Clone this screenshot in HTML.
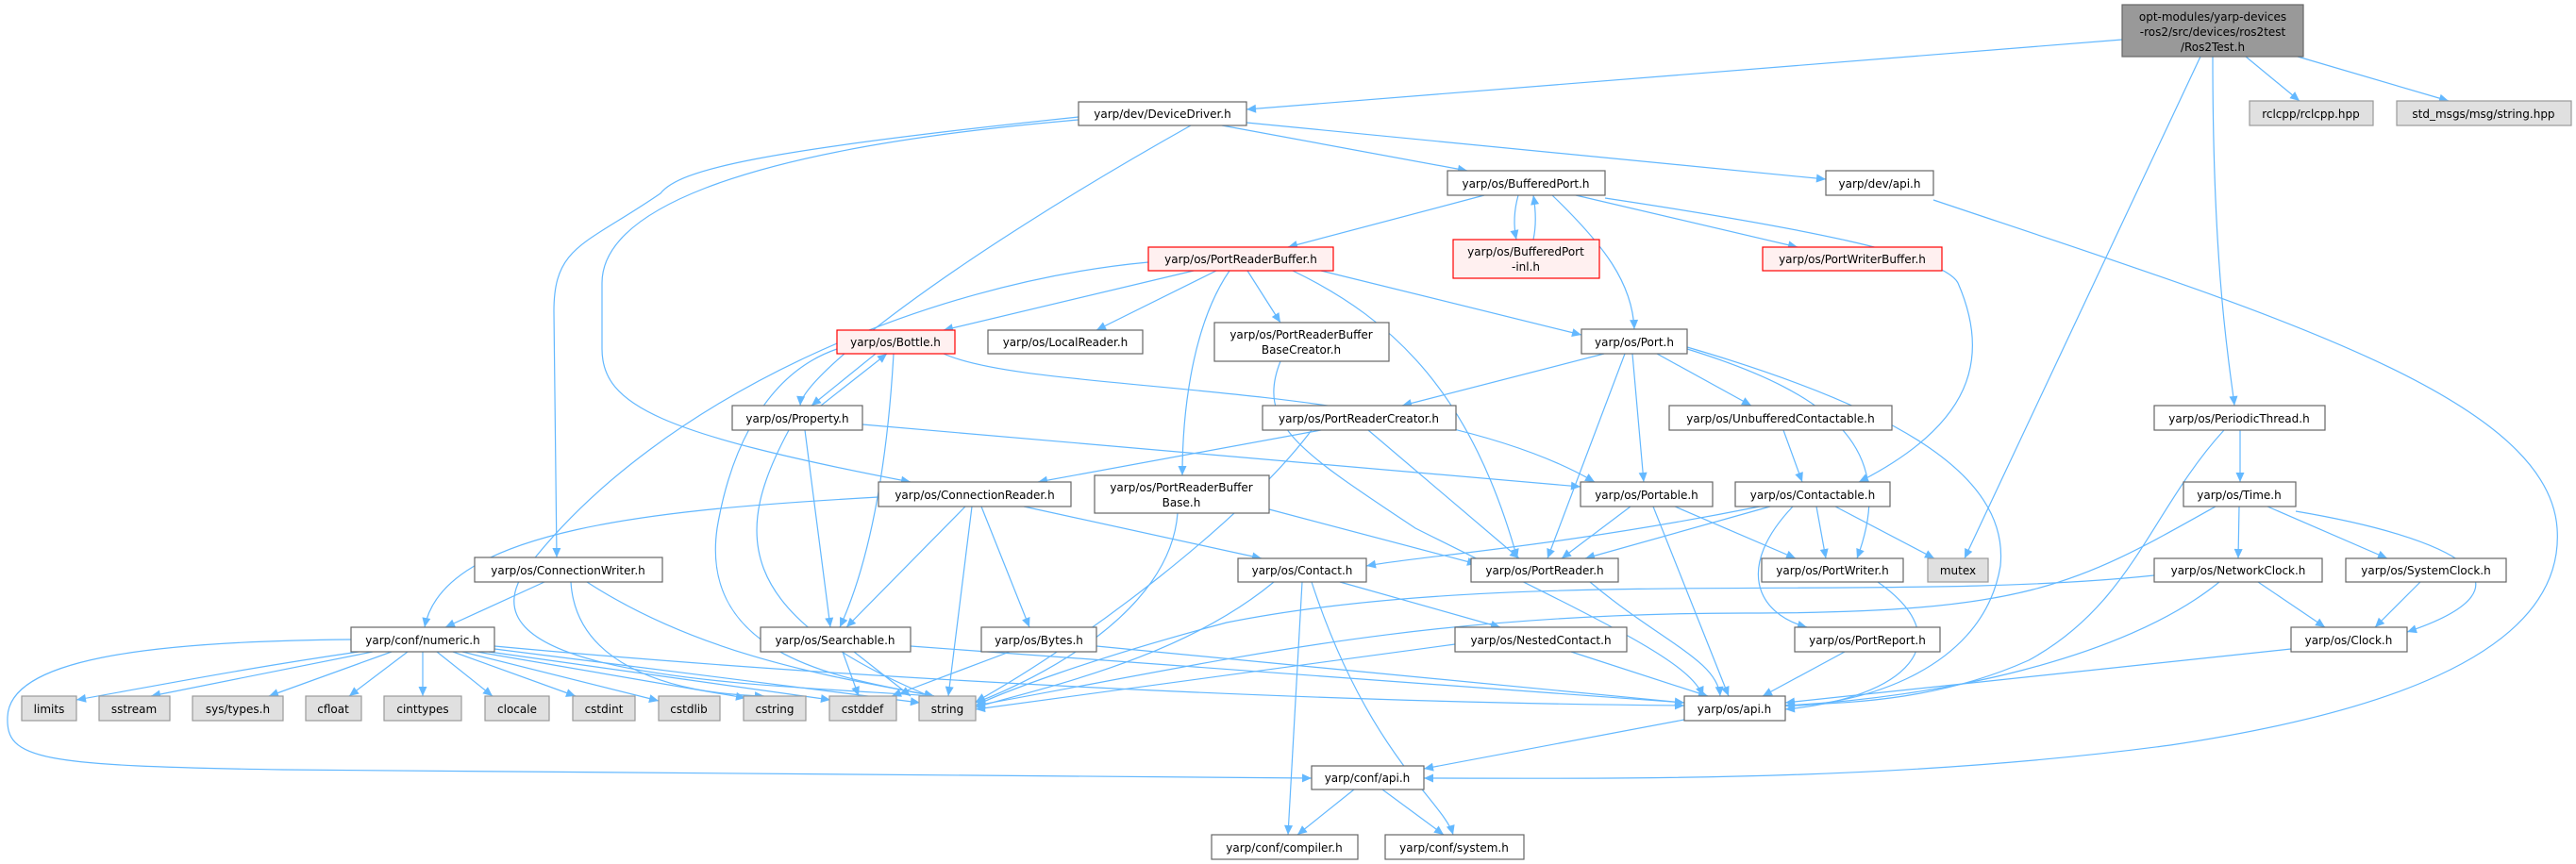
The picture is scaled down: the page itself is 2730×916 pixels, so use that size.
<!DOCTYPE html>
<html><head><meta charset="utf-8"><style>
html,body{margin:0;padding:0;background:#fff;}
svg{display:block;}
text{font-family:"DejaVu Sans","Liberation Sans",sans-serif;font-size:12px;fill:#000;text-anchor:middle;}
.n{fill:#fff;stroke:#666;stroke-width:1.2;}
.r{fill:#fff0f0;stroke:#ff0000;stroke-width:1.2;}
.g{fill:#e0e0e0;stroke:#999;stroke-width:1.2;}
.root{fill:#999;stroke:#666;stroke-width:1.2;}
.e path{fill:none;stroke:#63b8ff;stroke-width:1.2;marker-end:url(#a);}
</style></head><body>
<svg width="2730" height="916" viewBox="0 0 2730 916" xmlns="http://www.w3.org/2000/svg">
<defs><marker id="a" viewBox="0 0 10 10" refX="10" refY="5" markerWidth="11" markerHeight="10" markerUnits="userSpaceOnUse" orient="auto"><path d="M0,0.5 L10,5 L0,9.5z" fill="#63b8ff"/></marker></defs>
<g class="e">
<path d="M2249,42 L1321,116"/>
<path d="M2380,60 L2437,107"/>
<path d="M2435,60 L2595,107"/>
<path d="M2332,60 L2082,592"/>
<path d="M2345,60 C2345,300 2365,400 2368,430"/>
<path d="M1295,133 L1555,181"/>
<path d="M1321,130 L1935,190"/>
<path d="M1262,133 C1000,280 850,400 848,430"/>
<path d="M1143,127 C760,160 638,230 638,300 L638,370 C638,430 700,460 965,511"/>
<path d="M1143,124 C800,160 720,180 700,205 C620,260 587,260 587,330 L590,591"/>
<path d="M1573,207 L1365,262"/>
<path d="M1609,207 C1604,225 1604,240 1607,254"/>
<path d="M1625,254 C1628,240 1628,225 1625,207"/>
<path d="M1670,207 L1905,262"/>
<path d="M1645,207 C1700,260 1730,300 1732,349"/>
<path d="M1701,210 C1900,240 2060,270 2075,300 C2110,380 2090,450 1970,511"/>
<path d="M2049,212 C2400,330 2700,420 2710,560 C2720,700 2500,760 2300,790 C2000,830 1700,825 1509,825"/>
<path d="M1265,287 L1000,350"/>
<path d="M1289,287 L1162,350"/>
<path d="M1322,287 L1357,342"/>
<path d="M1303,287 C1260,350 1253,450 1253,504"/>
<path d="M1400,287 L1676,355"/>
<path d="M1370,287 C1480,340 1560,420 1608,592"/>
<path d="M1217,278 C980,300 700,420 560,600 C470,720 800,725 990,738"/>
<path d="M928,375 L860,430"/>
<path d="M870,430 L940,375"/>
<path d="M947,375 C940,500 920,600 890,665"/>
<path d="M1000,375 C1100,420 1500,400 1690,511"/>
<path d="M887,370 C800,400 770,500 760,560 C740,700 900,720 990,738"/>
<path d="M853,456 L880,665"/>
<path d="M914,450 L1675,516"/>
<path d="M836,456 C780,560 770,650 990,740"/>
<path d="M1357,383 C1330,450 1380,480 1500,560 C1700,660 1790,700 1805,738"/>
<path d="M1700,375 L1486,430"/>
<path d="M1756,375 L1856,430"/>
<path d="M1730,375 L1742,511"/>
<path d="M1722,375 L1640,592"/>
<path d="M1788,370 C1950,420 2010,480 1968,592"/>
<path d="M1788,368 C2000,430 2130,500 2120,600 C2100,720 1950,750 1892,748"/>
<path d="M1400,456 L1100,511"/>
<path d="M1450,456 L1610,592"/>
<path d="M1390,456 C1320,550 1150,680 1034,744"/>
<path d="M1890,456 L1910,511"/>
<path d="M2374,456 L2374,511"/>
<path d="M2357,456 C2280,540 2260,640 2150,700 C2050,745 1950,745 1892,748"/>
<path d="M931,527 C700,540 470,560 450,665"/>
<path d="M1023,537 L897,665"/>
<path d="M1030,537 L1005,738"/>
<path d="M1040,537 L1091,665"/>
<path d="M1085,537 L1337,592"/>
<path d="M1345,540 L1565,598"/>
<path d="M1248,544 C1240,650 1100,720 1034,745"/>
<path d="M1728,537 L1655,592"/>
<path d="M1775,537 L1903,592"/>
<path d="M1752,537 L1832,738"/>
<path d="M1865,537 C1650,580 1500,590 1448,600"/>
<path d="M1876,537 L1680,592"/>
<path d="M1925,537 L1935,592"/>
<path d="M1945,537 L2050,592"/>
<path d="M1900,537 C1840,600 1860,650 1915,665"/>
<path d="M2373,537 L2372,592"/>
<path d="M2403,537 L2530,592"/>
<path d="M2433,542 C2600,570 2700,620 2551,670"/>
<path d="M2348,537 C2200,620 2150,650 1850,650 C1500,650 1300,700 1034,748"/>
<path d="M577,617 L472,665"/>
<path d="M622,617 C750,700 900,720 990,738"/>
<path d="M605,617 C610,700 700,735 810,738"/>
<path d="M1420,617 L1590,665"/>
<path d="M1350,617 C1250,700 1100,730 1034,750"/>
<path d="M1380,617 L1365,885"/>
<path d="M1390,617 C1450,800 1530,850 1540,885"/>
<path d="M1685,617 C1760,680 1820,700 1823,738"/>
<path d="M1990,617 C2080,680 2020,740 1892,752"/>
<path d="M2393,617 L2464,665"/>
<path d="M2352,617 C2250,700 2050,740 1892,748"/>
<path d="M2283,610 C2000,640 1600,600 1300,660 C1150,700 1060,735 1034,748"/>
<path d="M2565,617 L2517,665"/>
<path d="M2428,688 L1892,745"/>
<path d="M380,691 C250,710 150,730 81,742"/>
<path d="M395,691 L160,738"/>
<path d="M415,691 L285,738"/>
<path d="M432,691 L370,738"/>
<path d="M448,691 L448,738"/>
<path d="M463,691 L522,738"/>
<path d="M480,691 L610,738"/>
<path d="M490,691 L698,743"/>
<path d="M505,691 L790,740"/>
<path d="M518,691 L880,742"/>
<path d="M524,688 L975,745"/>
<path d="M524,685 C900,720 1400,745 1785,748"/>
<path d="M372,678 C150,680 10,700 8,760 C6,805 40,812 300,816 L1390,825"/>
<path d="M893,691 L910,738"/>
<path d="M905,691 L965,738"/>
<path d="M965,685 L1785,745"/>
<path d="M1070,691 L945,738"/>
<path d="M1162,685 L1785,745"/>
<path d="M1542,683 L1034,752"/>
<path d="M1665,691 L1810,738"/>
<path d="M1955,691 L1868,738"/>
<path d="M1785,763 L1509,815"/>
<path d="M1435,837 L1375,885"/>
<path d="M1465,837 L1530,885"/>
</g>
<g>
<rect class="root" x="2249" y="5" width="192" height="55"/>
<text x="2345" y="22">opt-modules/yarp-devices</text>
<text x="2345" y="38">-ros2/src/devices/ros2test</text>
<text x="2345" y="54">/Ros2Test.h</text>
<rect class="g" x="2384" y="107" width="131" height="26"/><text x="2449" y="125">rclcpp/rclcpp.hpp</text>
<rect class="g" x="2540" y="107" width="185" height="26"/><text x="2632" y="125">std_msgs/msg/string.hpp</text>
<rect class="n" x="1143" y="108" width="178" height="25"/><text x="1232" y="125">yarp/dev/DeviceDriver.h</text>
<rect class="n" x="1534" y="181" width="167" height="26"/><text x="1617" y="199">yarp/os/BufferedPort.h</text>
<rect class="n" x="1935" y="181" width="114" height="26"/><text x="1992" y="199">yarp/dev/api.h</text>
<rect class="r" x="1217" y="262" width="196" height="25"/><text x="1315" y="279">yarp/os/PortReaderBuffer.h</text>
<rect class="r" x="1540" y="254" width="155" height="41"/><text x="1617" y="271">yarp/os/BufferedPort</text><text x="1617" y="287">-inl.h</text>
<rect class="r" x="1868" y="262" width="190" height="25"/><text x="1963" y="279">yarp/os/PortWriterBuffer.h</text>
<rect class="r" x="887" y="350" width="125" height="25"/><text x="949" y="367">yarp/os/Bottle.h</text>
<rect class="n" x="1047" y="350" width="164" height="25"/><text x="1129" y="367">yarp/os/LocalReader.h</text>
<rect class="n" x="1287" y="342" width="185" height="41"/><text x="1379" y="359">yarp/os/PortReaderBuffer</text><text x="1379" y="375">BaseCreator.h</text>
<rect class="n" x="1676" y="349" width="112" height="26"/><text x="1732" y="367">yarp/os/Port.h</text>
<rect class="n" x="776" y="430" width="138" height="26"/><text x="845" y="448">yarp/os/Property.h</text>
<rect class="n" x="1338" y="430" width="205" height="26"/><text x="1440" y="448">yarp/os/PortReaderCreator.h</text>
<rect class="n" x="1769" y="430" width="236" height="26"/><text x="1887" y="448">yarp/os/UnbufferedContactable.h</text>
<rect class="n" x="2283" y="430" width="181" height="26"/><text x="2373" y="448">yarp/os/PeriodicThread.h</text>
<rect class="n" x="931" y="511" width="204" height="26"/><text x="1033" y="529">yarp/os/ConnectionReader.h</text>
<rect class="n" x="1160" y="504" width="185" height="40"/><text x="1252" y="521">yarp/os/PortReaderBuffer</text><text x="1252" y="537">Base.h</text>
<rect class="n" x="1675" y="511" width="140" height="26"/><text x="1745" y="529">yarp/os/Portable.h</text>
<rect class="n" x="1839" y="511" width="164" height="26"/><text x="1921" y="529">yarp/os/Contactable.h</text>
<rect class="n" x="2314" y="511" width="119" height="26"/><text x="2373" y="529">yarp/os/Time.h</text>
<rect class="n" x="503" y="591" width="199" height="26"/><text x="602" y="609">yarp/os/ConnectionWriter.h</text>
<rect class="n" x="1312" y="592" width="136" height="25"/><text x="1380" y="609">yarp/os/Contact.h</text>
<rect class="n" x="1559" y="592" width="156" height="25"/><text x="1637" y="609">yarp/os/PortReader.h</text>
<rect class="n" x="1867" y="592" width="150" height="25"/><text x="1942" y="609">yarp/os/PortWriter.h</text>
<rect class="g" x="2043" y="592" width="64" height="25"/><text x="2075" y="609">mutex</text>
<rect class="n" x="2283" y="592" width="178" height="25"/><text x="2372" y="609">yarp/os/NetworkClock.h</text>
<rect class="n" x="2486" y="592" width="170" height="25"/><text x="2571" y="609">yarp/os/SystemClock.h</text>
<rect class="n" x="372" y="665" width="152" height="26"/><text x="448" y="683">yarp/conf/numeric.h</text>
<rect class="n" x="806" y="665" width="159" height="26"/><text x="885" y="683">yarp/os/Searchable.h</text>
<rect class="n" x="1040" y="665" width="122" height="26"/><text x="1101" y="683">yarp/os/Bytes.h</text>
<rect class="n" x="1542" y="665" width="182" height="26"/><text x="1633" y="683">yarp/os/NestedContact.h</text>
<rect class="n" x="1902" y="665" width="154" height="26"/><text x="1979" y="683">yarp/os/PortReport.h</text>
<rect class="n" x="2428" y="665" width="123" height="26"/><text x="2489" y="683">yarp/os/Clock.h</text>
<rect class="g" x="23" y="738" width="58" height="26"/><text x="52" y="756">limits</text>
<rect class="g" x="105" y="738" width="75" height="26"/><text x="142" y="756">sstream</text>
<rect class="g" x="204" y="738" width="96" height="26"/><text x="252" y="756">sys/types.h</text>
<rect class="g" x="324" y="738" width="59" height="26"/><text x="353" y="756">cfloat</text>
<rect class="g" x="407" y="738" width="82" height="26"/><text x="448" y="756">cinttypes</text>
<rect class="g" x="514" y="738" width="68" height="26"/><text x="548" y="756">clocale</text>
<rect class="g" x="607" y="738" width="66" height="26"/><text x="640" y="756">cstdint</text>
<rect class="g" x="698" y="738" width="65" height="26"/><text x="730" y="756">cstdlib</text>
<rect class="g" x="788" y="738" width="66" height="26"/><text x="821" y="756">cstring</text>
<rect class="g" x="879" y="738" width="71" height="26"/><text x="914" y="756">cstddef</text>
<rect class="g" x="974" y="738" width="60" height="26"/><text x="1004" y="756">string</text>
<rect class="n" x="1785" y="738" width="107" height="26"/><text x="1838" y="756">yarp/os/api.h</text>
<rect class="n" x="1390" y="812" width="119" height="25"/><text x="1449" y="829">yarp/conf/api.h</text>
<rect class="n" x="1284" y="885" width="155" height="26"/><text x="1361" y="903">yarp/conf/compiler.h</text>
<rect class="n" x="1468" y="885" width="147" height="26"/><text x="1541" y="903">yarp/conf/system.h</text>
</g>
</svg>
</body></html>
